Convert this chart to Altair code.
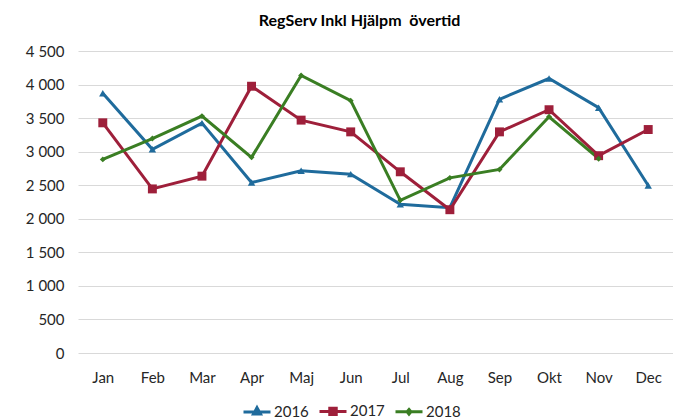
import altair as alt
import pandas as pd

months = ["Jan", "Feb", "Mar", "Apr", "Maj", "Jun", "Jul", "Aug", "Sep", "Okt", "Nov", "Dec"]
years = ["2016", "2017", "2018"]
v2016 = [3870, 3035, 3425, 2540, 2715, 2665, 2215, 2165, 3780, 4090, 3655, 2495]
v2017 = [3430, 2445, 2635, 3975, 3470, 3295, 2700, 2135, 3295, 3625, 2940, 3330]
v2018 = [2885, 3195, 3530, 2915, 4135, 3760, 2275, 2610, 2735, 3520, 2895, None]
colors = ["#1f6b9c", "#9e1f3a", "#3a7e23"]
shapes = ["triangle-up", "square", "diamond"]
sizes = [55, 80, 35]
y_ticks = [0, 500, 1000, 1500, 2000, 2500, 3000, 3500, 4000, 4500]

rows = []
for yr, vals in zip(years, [v2016, v2017, v2018]):
    for m, v in zip(months, vals):
        if v is not None:
            rows.append({"Månad": m, "År": yr, "Värde": v})
df = pd.DataFrame(rows)

FONT = "Lato"

x = alt.X("Månad:O", sort=months, title=None,
          scale=alt.Scale(padding=0.5),
          axis=alt.Axis(labelAngle=0, labelFont=FONT, labelFontSize=15, labelColor="#262626",
                        labelPadding=17, ticks=False, domain=False, grid=False))
y = alt.Y("Värde:Q", title=None,
          scale=alt.Scale(domain=[0, 4500], nice=False),
          axis=alt.Axis(values=y_ticks, labelFont=FONT, labelFontSize=15, labelColor="#262626",
                        labelExpr="replace(format(datum.value, ','), ',', ' ')",
                        labelPadding=14, ticks=False, domain=False, grid=True,
                        gridColor="#d9d9d9", gridWidth=1))

legend_paths = {
    "2016": "M-1,0L1,0M0,-0.32L0.26,0.15L-0.26,0.15Z",
    "2017": "M-1,0L1,0M-0.24,-0.24L0.24,-0.24L0.24,0.24L-0.24,0.24Z",
    "2018": "M-1,0L1,0M0,-0.17L0.14,0L0,0.17L-0.14,0Z",
}
shape_expr = ("datum.value === '2016' ? '{a}' : datum.value === '2017' ? '{b}' : '{c}'"
              .format(a=legend_paths["2016"], b=legend_paths["2017"], c=legend_paths["2018"]))
color_expr = ("datum.value === '2016' ? '{a}' : datum.value === '2017' ? '{b}' : '{c}'"
              .format(a=colors[0], b=colors[1], c=colors[2]))

legend = alt.Legend(title=None, orient="none", direction="horizontal",
                    legendX=164, legendY=345,
                    labelFont=FONT, labelFontSize=15, labelColor="#262626",
                    symbolSize=729, symbolStrokeWidth=3, labelOffset=2,
                    columnPadding=4,
                    symbolType=alt.ExprRef(shape_expr),
                    symbolFillColor=alt.ExprRef(color_expr),
                    symbolStrokeColor=alt.ExprRef(color_expr),
                    symbolOpacity=1)

lines = alt.Chart(df).mark_line(strokeWidth=3).encode(
    x=x, y=y,
    color=alt.Color("År:N", scale=alt.Scale(domain=years, range=colors), legend=legend))

point_layers = []
for yr, c, s, sz in zip(years, colors, shapes, sizes):
    point_layers.append(
        alt.Chart(df).transform_filter(alt.datum["År"] == yr)
        .mark_point(filled=True, opacity=1, shape=s, size=sz, color=c)
        .encode(x=x, y=y)
    )

chart = alt.layer(lines, *point_layers).properties(
    width=595, height=302,
    title=alt.TitleParams("RegServ Inkl Hjälpm\u00a0 övertid", font=FONT, fontSize=16,
                          fontWeight="bold", color="#000000", anchor="middle",
                          dx=-16, offset=15),
    autosize=alt.AutoSizeParams(type="none"),
    padding={"left": 70, "top": 43, "right": 0, "bottom": 66},
).configure_view(stroke=None)

chart.save("out.html", embed_options={"renderer": "svg", "actions": False})
